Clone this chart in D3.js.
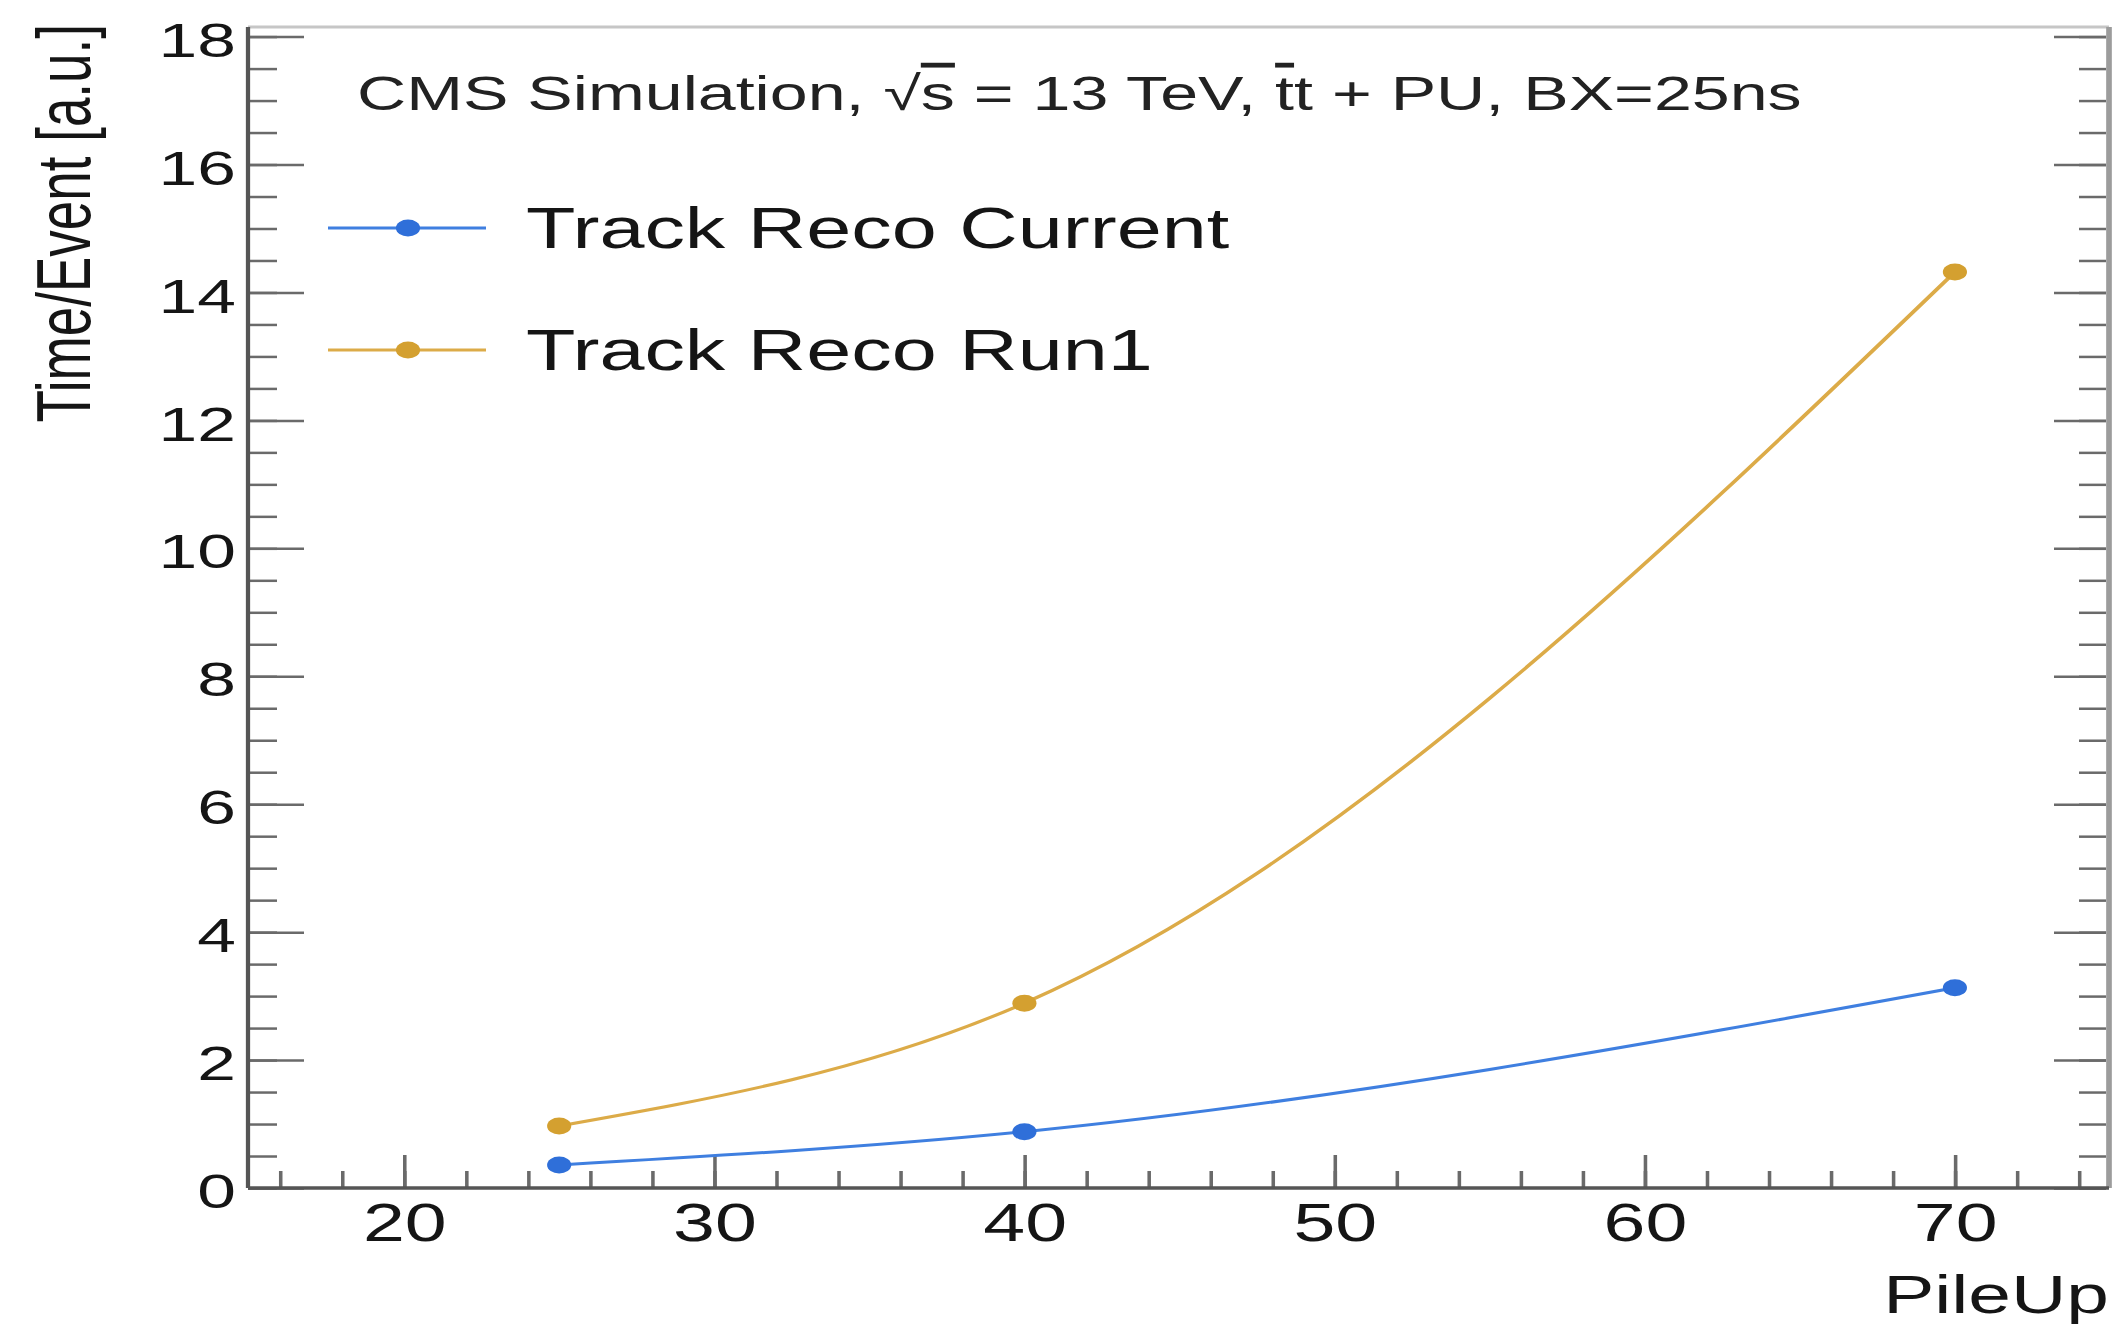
<!DOCTYPE html>
<html>
<head>
<meta charset="utf-8">
<script src="https://cdn.jsdelivr.net/npm/d3@7"></script>
<style>
  html, body { margin: 0; padding: 0; background: #fff; }
  svg { display: block; font-family: "Liberation Sans", Arial, Helvetica, sans-serif; }
</style>
</head>
<body>
<div id="chart"></div>
<script>
// ── data ──────────────────────────────────────────────
const pileup = [25, 40, 70];
const trackRecoCurrent = [0.36, 0.88, 3.13];
const trackRecoRun1 = [0.97, 2.89, 14.32];

const xTicks = [20, 30, 40, 50, 60, 70];
const xMinorTicks = d3.range(16, 75, 2);
const yTicks = [0, 2, 4, 6, 8, 10, 12, 14, 16, 18];
const yMinorTicks = d3.range(0, 18.1, 0.5);

const seriesNames = ['Track Reco Current', 'Track Reco Run1'];

// ── settings ──────────────────────────────────────────
const W = 2116, H = 1326;
const SX = 1.42; // the reference picture is stretched horizontally

const COLOR = {
  current: { line: '#3f7fe0', marker: '#2f6fd9' },
  run1:    { line: '#dcab48', marker: '#d4a030' },
};
const TEXT = '#151515';

const frame = { left: 248, right: 2109, top: 27, bottom: 1188 };

const svg = d3.select('#chart').append('svg')
  .attr('width', W)
  .attr('height', H)
  .attr('viewBox', `0 0 ${W} ${H}`);

// everything drawn in an un-stretched space, then stretched like the original
const g = svg.append('g').attr('transform', `scale(${SX},1)`);
const fx = v => v / SX;

const x = d3.scaleLinear().domain([15, 75]).range([fx(249), fx(2110)]);
const y = d3.scaleLinear().domain([0, 18.15]).range([frame.bottom, frame.top]);

// ── frame ─────────────────────────────────────────────
g.append('line')
  .attr('x1', fx(frame.left)).attr('x2', fx(frame.right))
  .attr('y1', frame.top).attr('y2', frame.top)
  .attr('stroke', '#c6c6c6').attr('stroke-width', 3);
g.append('line')
  .attr('x1', fx(frame.right)).attr('x2', fx(frame.right))
  .attr('y1', frame.top).attr('y2', frame.bottom)
  .attr('stroke', '#9c9c9c').attr('stroke-width', 4);

// ── axes ──────────────────────────────────────────────
function styleAxis(sel, fontSize) {
  sel.select('.domain').remove();
  sel.selectAll('.tick line').attr('stroke', '#6a6a6a').attr('stroke-width', 2.5);
  sel.selectAll('.tick text')
    .attr('fill', TEXT)
    .style('font-size', fontSize + 'px')
    .style('font-family', '"Liberation Sans", Arial, sans-serif');
}

// x minor + major
g.append('g')
  .attr('transform', `translate(0,${frame.bottom})`)
  .call(d3.axisBottom(x).tickValues(xMinorTicks).tickSizeInner(-17).tickSizeOuter(0).tickFormat(''))
  .call(s => styleAxis(s, 10));
g.append('g')
  .attr('transform', `translate(0,${frame.bottom})`)
  .call(d3.axisBottom(x).tickValues(xTicks).tickSizeInner(-33).tickSizeOuter(0).tickPadding(15).tickFormat(d3.format('d')))
  .call(s => styleAxis(s, 53));

// y left minor + major
g.append('g')
  .attr('transform', `translate(${fx(frame.left)},0)`)
  .call(d3.axisLeft(y).tickValues(yMinorTicks).tickSizeInner(-fx(29)).tickSizeOuter(0).tickFormat(''))
  .call(s => styleAxis(s, 10));
g.append('g')
  .attr('transform', `translate(${fx(frame.left)},0)`)
  .call(d3.axisLeft(y).tickValues(yTicks).tickSizeInner(-fx(56)).tickSizeOuter(0).tickPadding(fx(12)).tickFormat(d3.format('d')))
  .call(s => styleAxis(s, 49))
  .call(s => s.selectAll('.tick text').attr('dy', '0.40em'));

// y right minor + major
g.append('g')
  .attr('transform', `translate(${fx(frame.right - 3)},0)`)
  .call(d3.axisRight(y).tickValues(yMinorTicks).tickSizeInner(-fx(27)).tickSizeOuter(0).tickFormat(''))
  .call(s => styleAxis(s, 10));
g.append('g')
  .attr('transform', `translate(${fx(frame.right - 3)},0)`)
  .call(d3.axisRight(y).tickValues(yTicks).tickSizeInner(-fx(52)).tickSizeOuter(0).tickFormat(''))
  .call(s => styleAxis(s, 10));

// axis lines
g.append('line')
  .attr('x1', fx(frame.left)).attr('x2', fx(frame.left))
  .attr('y1', frame.top).attr('y2', frame.bottom)
  .attr('stroke', '#555').attr('stroke-width', 3);
g.append('line')
  .attr('x1', fx(frame.left)).attr('x2', fx(frame.right))
  .attr('y1', frame.bottom).attr('y2', frame.bottom)
  .attr('stroke', '#555').attr('stroke-width', 3.5);

// axis titles
g.append('text')
  .attr('x', fx(frame.right)).attr('y', 1313)
  .attr('text-anchor', 'end')
  .attr('fill', TEXT)
  .style('font-size', '54px')
  .text('PileUp');

g.append('text')
  .attr('transform', `translate(${fx(90)},24) rotate(-90)`)
  .attr('text-anchor', 'end')
  .attr('fill', TEXT)
  .style('font-size', '53px')
  .text('Time/Event [a.u.]');

// ── series ────────────────────────────────────────────
const series = [
  { name: seriesNames[0], values: trackRecoCurrent, color: COLOR.current },
  { name: seriesNames[1], values: trackRecoRun1, color: COLOR.run1 },
];

const line = d3.line()
  .x(d => x(d[0]))
  .y(d => y(d[1]))
  .curve(d3.curveMonotoneX);

for (const s of series) {
  const pts = pileup.map((p, i) => [p, s.values[i]]);
  g.append('path')
    .datum(pts)
    .attr('d', line)
    .attr('fill', 'none')
    .attr('stroke', s.color.line)
    .attr('stroke-width', 3);
  g.selectAll(null)
    .data(pts)
    .join('circle')
    .attr('cx', d => x(d[0]))
    .attr('cy', d => y(d[1]))
    .attr('r', 8.5)
    .attr('fill', s.color.marker);
}

// ── title ─────────────────────────────────────────────
const title = g.append('text')
  .attr('x', fx(357)).attr('y', 110)
  .attr('fill', '#222')
  .style('font-size', '48px');
title.append('tspan').text('CMS Simulation, \u221A');
title.append('tspan').style('text-decoration', 'overline').text('s');
title.append('tspan').text(' = 13 TeV, ');
title.append('tspan').style('text-decoration', 'overline').text('t');
title.append('tspan').text('t + PU, BX=25ns');

// ── legend ────────────────────────────────────────────
const legend = g.append('g');
series.forEach((s, i) => {
  const ly = 228 + i * 122;
  legend.append('line')
    .attr('x1', fx(328)).attr('x2', fx(486))
    .attr('y1', ly).attr('y2', ly)
    .attr('stroke', s.color.line).attr('stroke-width', 3);
  legend.append('circle')
    .attr('cx', fx(408)).attr('cy', ly).attr('r', 8.5)
    .attr('fill', s.color.marker);
  legend.append('text')
    .attr('x', fx(526)).attr('y', ly + 20)
    .attr('fill', TEXT)
    .style('font-size', '57px')
    .text(s.name);
});
</script>
</body>
</html>
